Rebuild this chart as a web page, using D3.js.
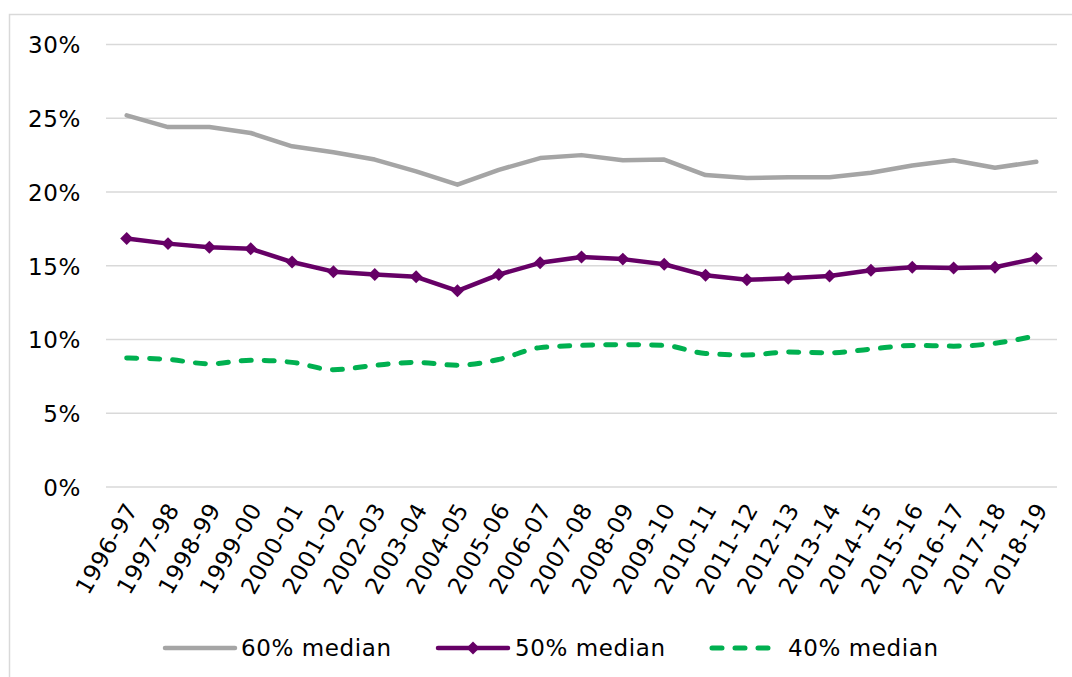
<!DOCTYPE html>
<html>
<head>
<meta charset="utf-8">
<script src="https://cdn.jsdelivr.net/npm/d3@7"></script>
<style>
  html, body { margin: 0; padding: 0; background: #fff; }
  svg { display: block; font-family: "DejaVu Sans", Verdana, sans-serif; }
</style>
</head>
<body>
<svg id="chart" width="1072" height="677"></svg>
<script>
// Financial years on the x axis
const years = ["1996-97","1997-98","1998-99","1999-00","2000-01","2001-02","2002-03",
  "2003-04","2004-05","2005-06","2006-07","2007-08","2008-09","2009-10","2010-11",
  "2011-12","2012-13","2013-14","2014-15","2015-16","2016-17","2017-18","2018-19"];

// Share of people below each threshold of median income (%)
const median60 = [25.2,24.4,24.4,24.0,23.1,22.7,22.2,21.4,20.5,21.5,22.3,22.5,22.15,
  22.2,21.15,20.95,21.0,21.0,21.3,21.8,22.15,21.65,22.05];
const median50 = [16.85,16.5,16.25,16.15,15.25,14.6,14.4,14.25,13.3,14.4,15.2,15.6,15.45,
  15.1,14.35,14.05,14.15,14.3,14.7,14.9,14.85,14.9,15.5];
const median40 = [8.75,8.65,8.35,8.6,8.45,7.95,8.25,8.45,8.25,8.65,9.45,9.6,9.65,
  9.6,9.05,8.95,9.15,9.1,9.35,9.6,9.55,9.75,10.25];

const yTicks = [0, 5, 10, 15, 20, 25, 30];
const seriesNames = ["60% median", "50% median", "40% median"];

const FONT = "DejaVu Sans, Verdana, sans-serif";
const FS = 23;
const LS = 0.6;

const svg = d3.select("#chart");
const W = 1072, H = 677;

// outer frame (open on right and bottom, as clipped)
svg.append("path")
  .attr("d", `M9.5,${H + 2} V14.5 H${W + 2}`)
  .attr("fill", "none")
  .attr("stroke", "#d9d9d9")
  .attr("stroke-width", 1.5);

const x = d3.scaleBand().domain(years).range([106, 1057]).paddingInner(0).paddingOuter(0);
const y = d3.scaleLinear().domain([0, 30]).range([487, 44.5]);
const cx = d => x(d) + x.bandwidth() / 2;

// horizontal gridlines
svg.append("g")
  .selectAll("line")
  .data(yTicks)
  .join("line")
  .attr("x1", 106).attr("x2", 1057)
  .attr("y1", d => y(d)).attr("y2", d => y(d))
  .attr("stroke", "#d9d9d9")
  .attr("stroke-width", 1.5);

// y axis labels
const yAxis = d3.axisLeft(y).tickValues(yTicks).tickFormat(d => d + "%").tickSize(0).tickPadding(0);
const gy = svg.append("g").attr("transform", "translate(81,0)").call(yAxis);
gy.select(".domain").remove();
gy.selectAll("text")
  .attr("font-size", FS)
  .attr("font-family", FONT)
  .attr("letter-spacing", LS)
  .attr("fill", "#000")
  .attr("dy", "0.36em");

// x axis labels, rotated
const xAxis = d3.axisBottom(x).tickSize(0).tickPadding(0);
const gx = svg.append("g").attr("transform", "translate(0,500)").call(xAxis);
gx.select(".domain").remove();
gx.selectAll("text")
  .attr("font-size", FS)
  .attr("font-family", FONT)
  .attr("letter-spacing", LS)
  .attr("fill", "#000")
  .attr("text-anchor", "end")
  .attr("x", 0).attr("y", 0).attr("dy", "0.35em")
  .attr("transform", "translate(5,5) rotate(-60)");

const pts = arr => arr.map((v, i) => [cx(years[i]), y(v)]);

// 60% median: solid grey
svg.append("path")
  .attr("d", d3.line().curve(d3.curveLinear)(pts(median60)))
  .attr("fill", "none")
  .attr("stroke", "#a5a5a5")
  .attr("stroke-width", 4.5)
  .attr("stroke-linejoin", "round")
  .attr("stroke-linecap", "round");

// 40% median: dashed green, smoothed
svg.append("path")
  .attr("d", d3.line().curve(d3.curveMonotoneX)(pts(median40)))
  .attr("fill", "none")
  .attr("stroke", "#00b050")
  .attr("stroke-width", 5)
  .attr("stroke-dasharray", "10 13")
  .attr("stroke-linecap", "round");

// 50% median: purple with diamond markers
svg.append("path")
  .attr("d", d3.line().curve(d3.curveLinear)(pts(median50)))
  .attr("fill", "none")
  .attr("stroke", "#660066")
  .attr("stroke-width", 4.5)
  .attr("stroke-linejoin", "round");

const diamond = d3.symbol(d3.symbolSquare, 84);
svg.append("g")
  .selectAll("path")
  .data(median50.map((v, i) => [cx(years[i]), y(v)]))
  .join("path")
  .attr("d", diamond)
  .attr("transform", d => `translate(${d[0]},${d[1]}) rotate(45)`)
  .attr("fill", "#660066");

// legend
const legend = svg.append("g").attr("font-size", FS).attr("fill", "#000");
const ly = 648;
const legendItems = [
  { name: seriesNames[0], x0: 165, x1: 235, tx: 241, color: "#a5a5a5", dash: null, marker: false },
  { name: seriesNames[1], x0: 438, x1: 508, tx: 515, color: "#660066", dash: null, marker: true },
  { name: seriesNames[2], x0: 712, x1: 771, tx: 788, color: "#00b050", dash: "10 13", marker: false }
];
legendItems.forEach(it => {
  legend.append("line")
    .attr("x1", it.x0).attr("x2", it.x1)
    .attr("y1", ly).attr("y2", ly)
    .attr("stroke", it.color)
    .attr("stroke-width", it.dash ? 5 : 4.5)
    .attr("stroke-linecap", "round")
    .attr("stroke-dasharray", it.dash);
  if (it.marker) {
    legend.append("path")
      .attr("d", diamond)
      .attr("transform", `translate(${(it.x0 + it.x1) / 2},${ly}) rotate(45)`)
      .attr("fill", it.color);
  }
  legend.append("text")
    .attr("x", it.tx).attr("y", ly)
    .attr("dy", "0.36em")
    .attr("font-family", FONT)
    .attr("letter-spacing", LS)
    .text(it.name);
});
</script>
</body>
</html>
